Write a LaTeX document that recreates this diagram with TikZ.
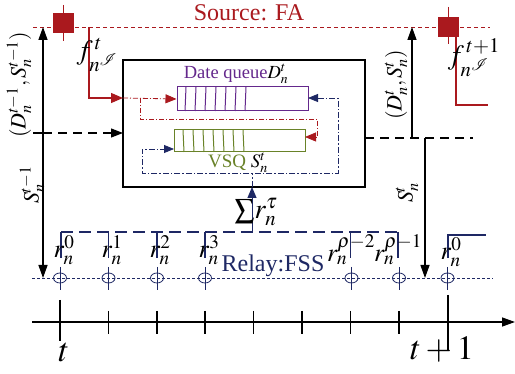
\documentclass[tikz,border=0pt]{standalone}
\usepackage{mathptmx}
\usepackage[no-math]{fontspec}
\setmainfont{Liberation Serif}
\usetikzlibrary{arrows.meta,shapes.geometric}
\newcommand{\fsz}[1]{\fontsize{#1}{#1}\selectfont\rmfamily}
\definecolor{srcred}{RGB}{170,25,30}
\definecolor{qpurple}{RGB}{100,40,140}
\definecolor{qolive}{RGB}{105,130,40}
\definecolor{navyc}{RGB}{30,40,100}
\tikzset{
  srcline/.style={draw=srcred,line width=0.8pt,dash pattern=on 4pt off 3pt},
  relayline/.style={draw=navyc,line width=0.8pt,dash pattern=on 3pt off 2pt},
  slotdash/.style={draw=navyc,line width=1.1pt,dash pattern=on 12pt off 6pt},
  dashdotred/.style={draw=srcred,line width=0.8pt,dash pattern=on 5pt off 2pt on 1pt off 2pt},
  dashdotnavy/.style={draw=navyc,line width=0.8pt,dash pattern=on 6pt off 2pt on 1.5pt off 2pt},
  blkdash/.style={draw=black,line width=1.2pt,dash pattern=on 9pt off 6pt},
  lbl/.style={inner sep=0pt,outer sep=0pt},
  redsq/.style={fill=srcred,draw=none,minimum width=21pt,minimum height=20pt,inner sep=0pt},
  relcirc/.style={ellipse,draw=navyc,line width=0.8pt,minimum width=13pt,minimum height=10pt,inner sep=0pt},
  slotbar/.style={draw=navyc,line width=1.1pt},
  tick/.style={draw=black,line width=1.2pt},
}
\begin{document}
\begin{tikzpicture}[x=1pt,y=-1pt]
\useasboundingbox (0,0) rectangle (515,374);
% source
\node[lbl,text=srcred,font=\fsz{24}] (srclbl) at (249,13) {Source: FA};
\coordinate (s0) at (33,27);
\coordinate (s1) at (490,27);
\draw[srcline] (s0) -- (s1);
\coordinate (v1a) at (63.5,5); \coordinate (v1b) at (63.5,41);
\draw[srcred,line width=1pt] (v1a) -- (v1b);
\node[redsq] (sq1) at (63.5,23) {};
\coordinate (v2a) at (448.5,7); \coordinate (v2b) at (448.5,44);
\draw[srcred,line width=1pt] (v2a) -- (v2b);
\node[redsq] (sq2) at (448.5,27) {};
% main box
\node[draw=black,line width=1.5pt,minimum width=242pt,minimum height=127pt,inner sep=0pt] (box) at (244,123.5) {};
% red input lines
\coordinate (r1a) at (89,27); \coordinate (r1b) at (89,98);
\coordinate (bxin) at (123,98);
\draw[srcred,line width=1.2pt,-{Triangle[length=12pt,width=10pt]}] (r1a) -- (r1b) -- (bxin);
\coordinate (r2a) at (456,36); \coordinate (r2b) at (456,105); \coordinate (r2c) at (488,105);
\draw[srcred,line width=1.2pt] (r2a) -- (r2b) -- (r2c);
\node[lbl,font=\fsz{28}] (f1) at (97,55) {$f^{\,t}_{n^{\mathcal{I}}}$};
\node[lbl,font=\fsz{28}] (f2) at (474,58) {$f^{\,t+1}_{n^{\mathcal{I}}}$};
% data queue
\node[draw=qpurple,line width=1pt,minimum width=131pt,minimum height=24pt,inner sep=0pt] (dq) at (242.5,99) {};
\foreach \x in {185,195,...,245} {\draw[qpurple,line width=1pt] (\x+1,87) -- (\x,111);}
\node[lbl,text=qpurple,font=\fsz{18.5}] (dql) at (236,74) {Date queue\textcolor{black}{$D^{t}_{n}$}};
% VSQ
\node[draw=qolive,line width=1pt,minimum width=131pt,minimum height=22pt,inner sep=0pt] (vsq) at (239.5,141) {};
\foreach \x in {183,193,...,243} {\draw[qolive,line width=1pt] (\x,130) -- (\x+1,152);}
\node[lbl,text=qolive,font=\fsz{19}] (vsql) at (238,163) {VSQ \textcolor{black}{$S^{t}_{n}$}};
% red dash-dot
\draw[dashdotred,-{Triangle[length=11pt,width=9pt]}] (bxin) -- (dq.west);
\coordinate (rd1) at (140,98); \coordinate (rd2) at (140,119);
\coordinate (rd3) at (317,119); \coordinate (rd4) at (317,137);
\coordinate (vsqin) at (305,137);
\draw[dashdotred,-{Triangle[length=11pt,width=9pt]}] (rd1) -- (rd2) -- (rd3) -- (rd4) -- (vsqin);
% navy loop
\coordinate (nv1) at (308,98); \coordinate (nv2) at (338,98);
\coordinate (nv3) at (338,173); \coordinate (nv4) at (142,173);
\coordinate (nv5) at (142,149); \coordinate (nv6) at (174,149);
\draw[dashdotnavy,{Triangle[length=10pt,width=8pt]}-{Triangle[length=10pt,width=8pt]}] (nv1) -- (nv2) -- (nv3) -- (nv4) -- (nv5) -- (nv6);
\coordinate (sm0) at (252,232); \coordinate (sm1) at (252,187); \coordinate (sm2) at (252,173);
\draw[navyc,line width=1pt,-{Triangle[length=11pt,width=9pt]}] (sm0) -- (sm1);
\draw[dashdotnavy] (sm1) -- (sm2);
\node[lbl,font=\fsz{28}] (sum) at (256,212) {$\textstyle\sum\! r^{\tau}_{n}$};
% slot line
\coordinate (sl0) at (61,232); \coordinate (sl1) at (398,232);
\draw[slotdash] (sl0) -- (sl1);
\foreach \x in {61,108.5,157,205,350.5,398} {\draw[slotbar] (\x,232) -- (\x,258);}
\coordinate (c8a) at (448,258); \coordinate (c8b) at (448,235); \coordinate (c8c) at (486,235);
\draw[slotbar] (c8a) -- (c8b) -- (c8c);
\node[lbl,font=\fsz{26}] (rl0) at (64,250) {$r^{0}_{n}$};
\node[lbl,font=\fsz{26}] (rl1) at (112,250) {$r^{1}_{n}$};
\node[lbl,font=\fsz{26}] (rl2) at (160,250) {$r^{2}_{n}$};
\node[lbl,font=\fsz{26}] (rl3) at (209,250) {$r^{3}_{n}$};
\node[lbl,font=\fsz{26}] (rl6) at (351,250) {$r^{\rho-2}_{n}$};
\node[lbl,font=\fsz{26}] (rl7) at (398,250) {$r^{\rho-1}_{n}$};
\node[lbl,font=\fsz{26}] (rl8) at (451,252) {$r^{0}_{n}$};
% relay line
\coordinate (rl_a) at (32,278); \coordinate (rl_b) at (493,278);
\draw[relayline] (rl_a) -- (rl_b);
\node[lbl,text=navyc,font=\fsz{24}] (relay) at (273,266) {Relay:FSS};
\foreach \x/\n in {60/0,108.5/1,157/2,205/3,351.5/6,399/7,447.5/8} {
  \node[relcirc] (c\n) at (\x,278) {};
  \draw[navyc,line width=0.8pt] (\x,267) -- (\x,290);
}
% left arrow
\coordinate (la0) at (43,27); \coordinate (la1) at (43,278);
\draw[black,line width=1.3pt,{Triangle[length=13pt,width=9pt]}-{Triangle[length=13pt,width=9pt]}] (la0) -- (la1);
\coordinate (ls0) at (33,133); \coordinate (ls1) at (43,133); \coordinate (ls2) at (123,133);
\draw[black,line width=1.2pt] (ls0) -- (ls1);
\draw[blkdash,-{Triangle[length=12pt,width=9pt]}] (ls1) -- (ls2);
\node[lbl,rotate=90,font=\fsz{22}] (lD) at (19,85) {$(D^{t-1}_{n},S^{t-1}_{n})$};
\node[lbl,rotate=90,font=\fsz{22}] (lS) at (32,185) {$S^{t-1}_{n}$};
% right arrows
\coordinate (rs0) at (365,138); \coordinate (rs1) at (473,138);
\draw[blkdash] (rs0) -- (rs1);
\coordinate (ru0) at (412,138); \coordinate (ru1) at (412,27);
\draw[black,line width=1.3pt,-{Triangle[length=13pt,width=9pt]}] (ru0) -- (ru1);
\coordinate (rd0) at (425,138); \coordinate (rdd) at (425,278);
\draw[black,line width=1.3pt,-{Triangle[length=13pt,width=9pt]}] (rd0) -- (rdd);
\node[lbl,rotate=90,font=\fsz{22}] (rD) at (396,85) {$(D^{t}_{n},S^{t}_{n})$};
\node[lbl,rotate=90,font=\fsz{22}] (rS) at (407,193) {$S^{t}_{n}$};
% timeline
\coordinate (ax0) at (32,322); \coordinate (ax1) at (515,322);
\draw[black,line width=1.3pt,-{Triangle[length=13pt,width=9pt]}] (ax0) -- (ax1);
\foreach \x in {108.5,157,205,253.5,302,350.5,399} {\draw[tick] (\x,311) -- (\x,334);}
\coordinate (t0a) at (60,300); \coordinate (t0b) at (60,341);
\draw[tick] (t0a) -- (t0b);
\coordinate (t8a) at (448,295); \coordinate (t8b) at (448,350);
\draw[tick] (t8a) -- (t8b);
\node[lbl,font=\fsz{34}] (tl) at (64,352) {$t$};
\node[lbl,font=\fsz{34}] (tl1) at (442,350) {$t+1$};
\end{tikzpicture}
\end{document}
